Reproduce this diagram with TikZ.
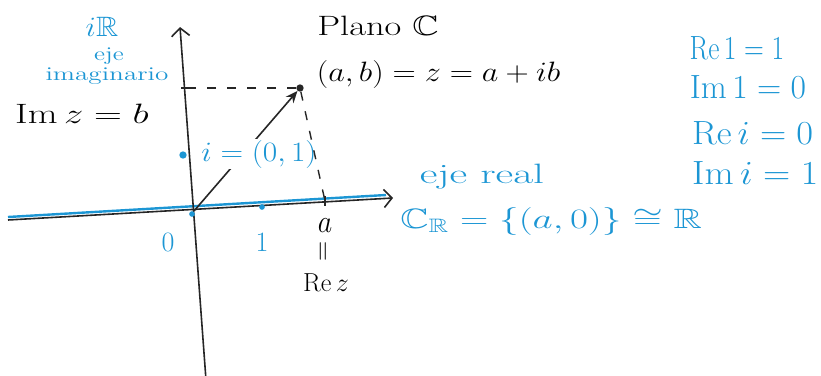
\documentclass[tikz,border=0pt]{standalone}
\usepackage{amsmath, amssymb}
\usetikzlibrary{arrows.meta}

\definecolor{penblue}{RGB}{28,150,212}
\definecolor{penblack}{RGB}{38,38,38}

\begin{document}
\begin{tikzpicture}[x=1pt, y=-1pt, font=\fontsize{20.74}{24}\selectfont,
    lab/.style={scale=1.35, inner sep=1pt},
    blueink/.style={lab, text=penblue},
    sidenote/.style={blueink, anchor=west, yscale=1.2},
    axisline/.style={penblack, line width=1.6pt, -{Straight Barb[length=8pt, width=18pt]}},
    helper/.style={penblack, line width=1.4pt, dash pattern=on 9pt off 11pt},
    dotmark/.style={circle, inner sep=2.6pt, fill=#1}]

        \useasboundingbox (0, 0) rectangle (821, 375);

        % ---------------------------------------------------
        % 1. Axes
        % ---------------------------------------------------
        \coordinate (O) at (194, 211);
        \coordinate (xL) at (8, 220);
        \coordinate (xR) at (393, 198);
        \coordinate (yB) at (206, 380);
        \coordinate (yT) at (180, 27);
        \coordinate (bL) at (8, 217);
        \coordinate (bR) at (386, 195);

        % blue overstroke of the real axis
        \draw[penblue, line width=2.4pt] (bL) -- (bR);
        \draw[axisline] (xL) -- (xR);
        \draw[axisline] (yB) -- (yT);

        % ---------------------------------------------------
        % 2. Point z and its projections
        % ---------------------------------------------------
        \node[dotmark=penblack] (zdot) at (300, 88) {};
        \coordinate (ib) at (185, 88);
        \coordinate (a) at (325, 201);

        \draw[penblack, line width=1.6pt, -{Stealth[length=12pt, width=10pt]}] (O) -- (zdot);

        % i = (0,1) sits over the vector
        \node[dotmark=penblue] (idot) at (183, 155) {};
        \node[blueink, fill=white, xscale=1.12] (ilab) at (259, 154) {$i=(0,1)$};

        \draw[helper] (zdot) -- (ib);
        \draw[helper] (zdot) -- (a);

        % ticks
        \draw[penblack, line width=1.6pt] (a) ++(0, -5) -- ++(0, 10);
        \draw[penblack, line width=1.4pt] (ib) ++(-4, 0) -- ++(8, 0);
        \node[dotmark=penblue, inner sep=2pt] (onedot) at (262, 207) {};
        \node[dotmark=penblue, inner sep=2pt] (Odot) at (192, 214) {};

        % ---------------------------------------------------
        % 3. Labels
        % ---------------------------------------------------
        \node[blueink] (zero) at (168, 242) {$0$};
        \node[blueink] (one) at (262, 242) {$1$};
        \node[lab, yscale=1.15] (alab) at (325, 226) {$a$};
        \node[lab, rotate=90] (aeq) at (325, 251) {$=$};
        \node[lab, scale=0.93] (rez) at (326, 283) {$\mathrm{Re}\,z$};

        \node[blueink, xscale=1.1] (iR) at (102, 27) {$i\mathbb{R}$};
        \node[blueink, font=\fontsize{14.4}{16}\selectfont, xscale=1.3] (eje) at (109, 56) {eje};
        \node[blueink, font=\fontsize{14.4}{16}\selectfont, xscale=1.4] (imag) at (107, 76) {imaginario};
        \node[lab, xscale=1.38] (imz) at (82, 114) {$\mathrm{Im}\,z = b$};

        \node[lab, xscale=1.3] (plano) at (378, 26) {Plano $\mathbb{C}$};
        \node[lab, anchor=west, xscale=1.15] (zlab) at (315, 74) {$(a,b)=z=a+ib$};

        \node[blueink, xscale=1.55] (ejereal) at (482, 177) {eje real};
        \node[blueink, anchor=west, xscale=1.4] (CR) at (398, 221) {$\mathbb{C}_{\mathbb{R}}=\{(a,0)\}\cong\mathbb{R}$};

        % right column
        \node[sidenote, xscale=0.98] (re1) at (688, 48) {$\mathrm{Re}\,1=1$};
        \node[sidenote, xscale=1.2] (im1) at (688, 87) {$\mathrm{Im}\,1=0$};
        \node[sidenote, xscale=1.3] (rei) at (690, 133) {$\mathrm{Re}\,i=0$};
        \node[sidenote, xscale=1.35] (imi) at (690, 173) {$\mathrm{Im}\,i=1$};

\end{tikzpicture}
\end{document}
